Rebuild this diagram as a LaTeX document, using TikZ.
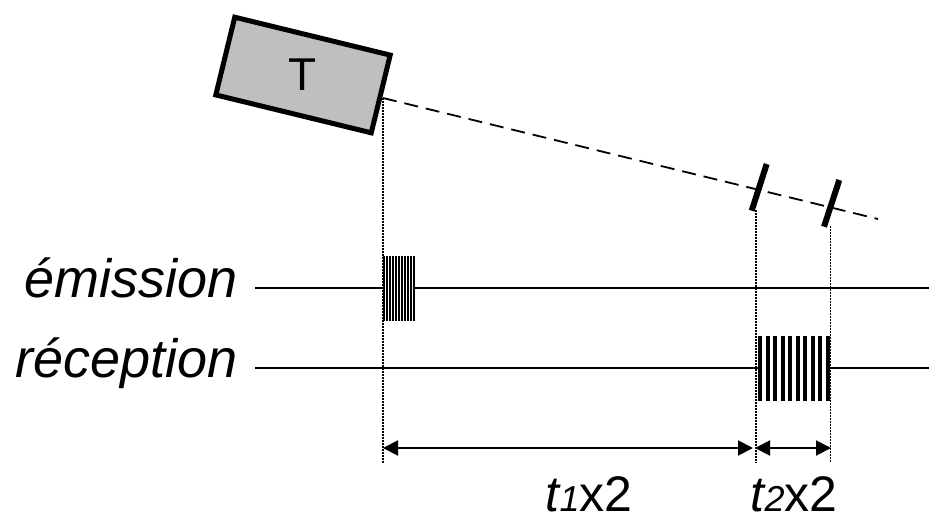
\documentclass[tikz,border=0pt]{standalone}
\usepackage{fontspec}
\setmainfont{Liberation Sans}
\usepackage{tikz}
\usetikzlibrary{arrows.meta, positioning}

\begin{document}
\begin{tikzpicture}[x=1pt, y=-1pt,
    tbox/.style={rectangle, draw, line width=5pt, fill=black!25, minimum width=160pt, minimum height=80pt, rotate=-13.7},
    lbl/.style={anchor=base east, inner sep=0pt, font=\fontsize{54}{60}\selectfont\itshape},
    tlbl/.style={anchor=base, inner sep=0pt, text depth=0pt, font=\fontsize{50}{54}\selectfont},
    line/.style={draw, line width=1.5pt},
    beam/.style={draw, line width=1.8pt, dash pattern=on 14pt off 8pt},
    guide/.style={draw, line width=1.5pt, dash pattern=on 1.5pt off 1.5pt},
    tick/.style={draw, line width=6pt},
    dim/.style={draw, line width=2pt, {Triangle[length=15pt,width=15pt]}-{Triangle[length=15pt,width=15pt]}}]

    \useasboundingbox (0,0) rectangle (929,523);

    % transducer and beam
    \node [tbox] (trans) at (303,75) {};
    \node [font=\fontsize{46}{50}\selectfont] (transLbl) at (trans.center) {T};
    \coordinate (src) at (383,98);
    \coordinate (beamEnd) at (878,219);
    \path [beam] (src) -- (beamEnd);

    % echoes on the beam
    \coordinate (tickOneA) at (766.7,164);
    \coordinate (tickOneB) at (751.7,210.7);
    \coordinate (tickTwoA) at (839.3,180);
    \coordinate (tickTwoB) at (824,226.7);
    \path [tick] (tickOneA) -- (tickOneB);
    \path [tick] (tickTwoA) -- (tickTwoB);

    % time lines
    \node [lbl] (lblEmis) at (238,297) {émission};
    \node [lbl] (lblRecep) at (238,377) {réception};
    \coordinate (emisL) at (255,288);
    \coordinate (emisR) at (929,288);
    \coordinate (recepL) at (255,368);
    \coordinate (recepR) at (929,368);
    \path [line] (emisL) -- (emisR);
    \path [line] (recepL) -- (recepR);

    % pulses
    \fill [white] (383,256) rectangle (414.5,321);
    \foreach \i in {0,...,10}
        \fill (383+\i*3,256) rectangle ++(1.5,65);
    \fill [white] (758,336) rectangle (830,401);
    \foreach \i in {0,...,9}
        \fill (758+\i*7.5,336) rectangle ++(4,65);

    % guides
    \coordinate (gZero) at (383,463);
    \coordinate (gOneTop) at (756,210);
    \coordinate (gOne) at (756,463);
    \coordinate (gTwoTop) at (830.7,226);
    \coordinate (gTwo) at (830.7,463);
    \path [guide] (src) -- (gZero);
    \path [guide] (gOneTop) -- (gOne);
    \path [guide] (gTwoTop) -- (gTwo);

    % durations
    \coordinate (aZero) at (383,448);
    \coordinate (aOne) at (753,448);
    \coordinate (aOneb) at (755,448);
    \coordinate (aTwo) at (831,448);
    \path [dim] (aZero) -- (aOne);
    \path [dim] (aOneb) -- (aTwo);
    \node [tlbl] (lblTOne) at (589,511) {\textit{t{\fontsize{36}{38}\selectfont 1}}x2};
    \node [tlbl] (lblTTwo) at (794,511) {\textit{t{\fontsize{36}{38}\selectfont 2}}x2};
\end{tikzpicture}
\end{document}
